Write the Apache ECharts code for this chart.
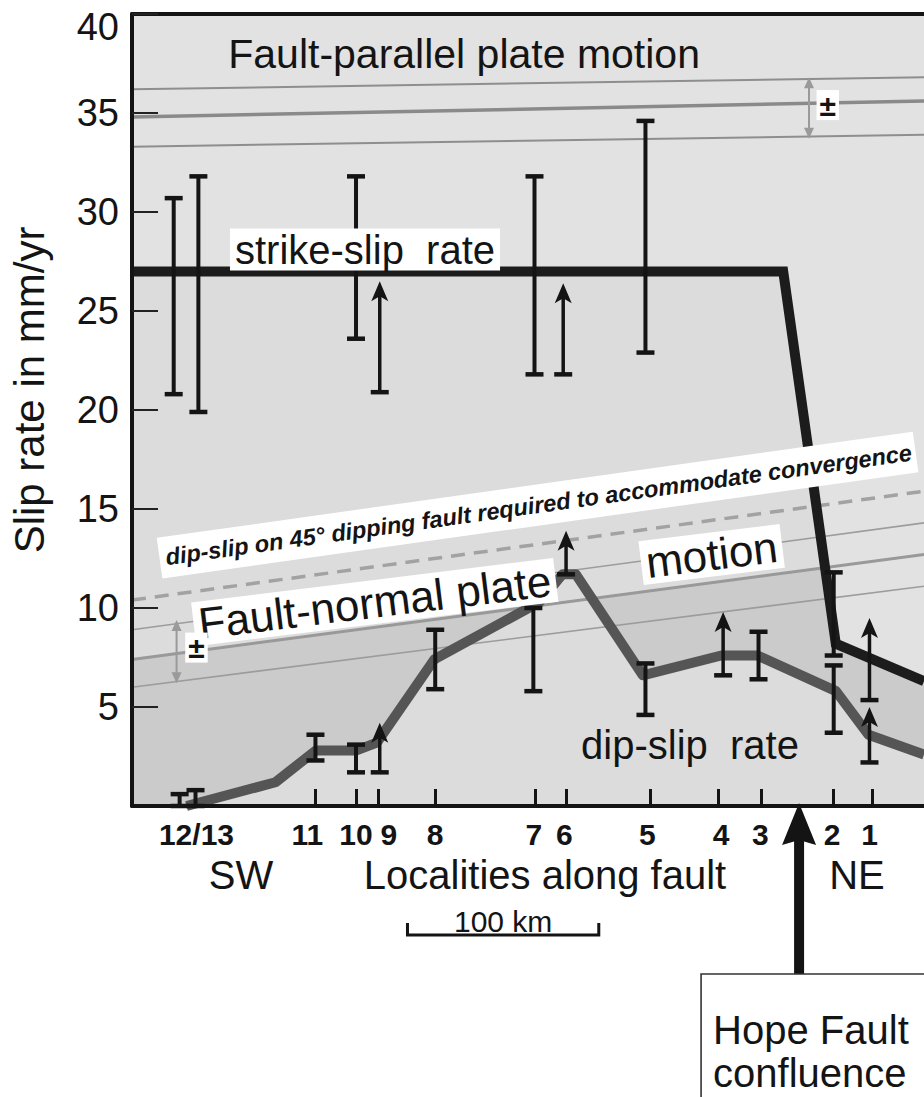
<!DOCTYPE html>
<html>
<head>
<meta charset="utf-8">
<script src="https://cdn.jsdelivr.net/npm/echarts@6.0.0/dist/echarts.min.js"></script>
<style>
html,body{margin:0;padding:0;background:#ffffff;}
#chart{width:924px;height:1097px;}
</style>
</head>
<body>
<div id="chart"></div>
<script>
// ---------------- data (distance along fault in km, slip rate in mm/yr) ----------------
const localityNames   = ['12/13', '11', '10', '9', '8', '7', '6', '5', '4', '3', '2', '1'];
const localityLabelKm = [33.7, 91.7, 117.1, 134.2, 158.5, 210.0, 226.0, 269.4, 308.0, 328.5, 366.0, 385.5];
const localityTickKm  = [95.9, 117.1, 128.5, 158.5, 210.9, 226.9, 271.0, 306.2, 329.0, 366.8, 387.0];
const yTickValues     = [5, 10, 15, 20, 25, 30, 35, 40];

// thick interpreted rate curves [km, mm/yr]
const strikeSlipLine = [[0, 27], [340.4, 27], [367.9, 8.2], [414, 6.3]];
const dipSlipLine = [[28.5, 0], [75, 1.2], [96, 2.8], [117, 2.8], [128, 3.2], [158, 7.4], [213, 10.3],
                     [225, 11.7], [232, 11.7], [267, 6.6], [308, 7.6], [327, 7.6], [368, 5.8], [385, 3.6], [414, 2.6]];

// measured ranges [km, low, high]
const strikeSlipBars = [[21.8, 20.8, 30.7], [34.7, 19.9, 31.8], [117.1, 23.6, 31.8], [210.4, 21.8, 31.8],
                        [268.4, 22.9, 34.6], [366.8, 7.6, 11.8]];
const dipSlipBars = [[24.9, 0, 0.6], [33.2, 0, 0.8], [95.9, 2.3, 3.6], [117.1, 1.7, 3.1], [158.5, 5.9, 8.9],
                     [209.8, 5.8, 10.0], [268.4, 4.6, 7.2], [327.5, 6.4, 8.8], [366.8, 3.7, 7.1]];
// minimum values [km, minimum, arrow tip]
const strikeSlipMins = [[129.5, 20.9, 26.5], [225.4, 21.8, 26.4], [385.5, 5.35, 9.5]];
const dipSlipMins = [[129.5, 1.7, 4.2], [226.9, 11.7, 13.9], [309.0, 6.6, 9.8], [385.5, 2.2, 5.0]];

// plate motion components [km, mm/yr]
const faultParallelMid  = [[0, 34.8], [414, 35.6]];
const faultParallelHigh = [[0, 36.2], [414, 36.8]];
const faultParallelLow  = [[0, 33.3], [414, 33.9]];
const faultNormalMid  = [[0, 7.4], [414, 12.7]];
const faultNormalHigh = [[0, 8.9], [414, 14.3]];
const faultNormalLow  = [[0, 6.0], [414, 11.1]];
const dipSlip45 = [[0, 10.4], [414, 15.9]];
// uncertainty markers [km, low, high]
const plateUncertainty = [[353.9, 33.7, 36.8], [23.3, 6.2, 9.4]];

const hopeFaultKm = 348.7;
const scaleBar = [[144, 100]]; // start km, length km

// annotations
const annoText = ['Fault-parallel plate motion', 'strike-slip\u00a0 rate', 'dip-slip\u00a0 rate',
                  'Fault-normal plate', 'motion',
                  'dip-slip on 45\u00b0 dipping fault required to accommodate convergence',
                  '\u00b1', '\u00b1'];
const annoKm  = [173.6, 121.8, 291.7, 126.9, 303.0, 212.0, 33.7, 363.7];
const annoVal = [38.0, 28.1, 3.1, 10.3, 12.7, 15.2, 8.0, 35.4];

// ---------------- rendering ----------------
const FONT = '"Liberation Sans", Arial, Helvetica, sans-serif';
const INK = '#141414';

const annoStyle = [
  {size: 41},
  {size: 40, bg: '#ffffff', pad: [1, 5, 1, 5]},
  {size: 40},
  {size: 44, bg: '#ffffff', pad: [0, 5, 0, 5], rot: 7},
  {size: 44, bg: '#ffffff', pad: [0, 5, 0, 5], rot: 7},
  {size: 23.5, weight: 'bold', italic: true, bg: '#ffffff', pad: [6, 4, 12, 6], rot: 8},
  {size: 30, weight: 'bold', bg: '#ffffff', pad: [0, 3, 0, 3]},
  {size: 30, weight: 'bold', bg: '#ffffff', pad: [0, 3, 0, 3]}
];

function errorBarItem(params, api) {
  const x = api.value(0), lo = api.value(1), hi = api.value(2);
  const p1 = api.coord([x, lo]), p2 = api.coord([x, hi]);
  const hw = 9;
  const st = {stroke: INK, lineWidth: 4.5};
  return {type: 'group', children: [
    {type: 'line', shape: {x1: p1[0], y1: p1[1], x2: p2[0], y2: p2[1]}, style: {stroke: INK, lineWidth: 4}},
    {type: 'line', shape: {x1: p1[0] - hw, y1: p1[1], x2: p1[0] + hw, y2: p1[1]}, style: st},
    {type: 'line', shape: {x1: p2[0] - hw, y1: p2[1], x2: p2[0] + hw, y2: p2[1]}, style: st}
  ]};
}

function minArrowItem(params, api) {
  const x = api.value(0), lo = api.value(1), tip = api.value(2);
  const p1 = api.coord([x, lo]), p2 = api.coord([x, tip]);
  const hw = 9;
  return {type: 'group', children: [
    {type: 'line', shape: {x1: p1[0], y1: p1[1], x2: p2[0], y2: p2[1] + 12}, style: {stroke: INK, lineWidth: 3.5}},
    {type: 'line', shape: {x1: p1[0] - hw, y1: p1[1], x2: p1[0] + hw, y2: p1[1]}, style: {stroke: INK, lineWidth: 4.5}},
    {type: 'polygon', shape: {points: [[p2[0], p2[1]], [p2[0] - 8.5, p2[1] + 20], [p2[0], p2[1] + 15], [p2[0] + 8.5, p2[1] + 20]]},
     style: {fill: INK}}
  ]};
}

function rangeArrowItem(params, api) {
  const x = api.value(0), lo = api.value(1), hi = api.value(2);
  const p1 = api.coord([x, lo]), p2 = api.coord([x, hi]);
  const c = '#9a9a9a';
  return {type: 'group', children: [
    {type: 'line', shape: {x1: p1[0], y1: p1[1] - 2, x2: p2[0], y2: p2[1] + 2}, style: {stroke: c, lineWidth: 2}},
    {type: 'polygon', shape: {points: [[p2[0], p2[1]], [p2[0] - 5, p2[1] + 11], [p2[0] + 5, p2[1] + 11]]}, style: {fill: c}},
    {type: 'polygon', shape: {points: [[p1[0], p1[1]], [p1[0] - 5, p1[1] - 11], [p1[0] + 5, p1[1] - 11]]}, style: {fill: c}}
  ]};
}

function annotationItem(params, api) {
  const i = params.dataIndex;
  const s = annoStyle[i];
  const p = api.coord([api.value(0), api.value(1)]);
  const style = {
    text: annoText[i], fontSize: s.size, fontFamily: FONT,
    fontWeight: s.weight || 'normal', fontStyle: s.italic ? 'italic' : 'normal',
    fill: INK, align: 'center', verticalAlign: 'middle'
  };
  if (s.bg) { style.backgroundColor = s.bg; style.padding = s.pad; }
  return {type: 'text', x: p[0], y: p[1], rotation: (s.rot || 0) * Math.PI / 180, style: style, z2: 50};
}

function hopeItem(params, api) {
  const p = api.coord([api.value(0), 0]);
  const x = p[0];
  const tipY = p[1] - 3;
  const baseY = tipY + 42;
  const boxTop = 974;
  return {type: 'group', children: [
    {type: 'polygon', shape: {points: [[x, tipY], [x - 17, baseY], [x, baseY - 5], [x + 17, baseY]]}, style: {fill: INK}},
    {type: 'rect', shape: {x: x - 5, y: baseY - 8, width: 10, height: boxTop - baseY + 8}, style: {fill: INK}},
    {type: 'rect', shape: {x: x - 98, y: boxTop, width: 320, height: 200}, style: {fill: '#ffffff', stroke: '#333333', lineWidth: 1.6}},
    {type: 'text', x: x - 86, y: 1030, style: {text: 'Hope Fault', fontSize: 40, fontFamily: FONT, fill: INK, align: 'left', verticalAlign: 'middle'}},
    {type: 'text', x: x - 86, y: 1073, style: {text: 'confluence', fontSize: 40, fontFamily: FONT, fill: INK, align: 'left', verticalAlign: 'middle'}}
  ]};
}

function scaleBarItem(params, api) {
  const k0 = api.value(0), len = api.value(1);
  const a = api.coord([k0, 0]), b = api.coord([k0 + len, 0]);
  const y = a[1] + 129;
  return {type: 'group', children: [
    {type: 'polyline', shape: {points: [[a[0], y - 12], [a[0], y], [b[0], y], [b[0], y - 12]]}, style: {stroke: INK, lineWidth: 3, fill: null}},
    {type: 'text', x: (a[0] + b[0]) / 2, y: y - 14, style: {text: len + ' km', fontSize: 30, fontFamily: FONT, fill: INK, align: 'center', verticalAlign: 'middle'}}
  ]};
}

function plainLine(data, color, width, z, extra) {
  return Object.assign({
    type: 'line', data: data, symbol: 'none', silent: true, z: z,
    lineStyle: {color: color, width: width}
  }, extra || {});
}

function areaOnly(data, color, origin) {
  return {
    type: 'line', data: data, symbol: 'none', silent: true, z: 1,
    lineStyle: {width: 0, opacity: 0},
    areaStyle: {color: color, origin: origin, opacity: 1}
  };
}

const chart = echarts.init(document.getElementById('chart'), null, {renderer: 'svg'});

const option = {
  animation: false,
  textStyle: {fontFamily: FONT},
  grid: {left: 125, right: 0, top: 14, bottom: 291, show: true, backgroundColor: '#dcdcdc', borderWidth: 0},
  xAxis: [
    {
      type: 'value', min: 0, max: 414, position: 'bottom', z: 10,
      axisLine: {onZero: false, lineStyle: {color: INK, width: 4}},
      axisTick: {show: true, inside: true, length: 17, customValues: localityTickKm, lineStyle: {color: INK, width: 3}},
      axisLabel: {
        customValues: localityLabelKm, fontSize: 30, fontWeight: 'bold', color: INK, margin: 13,
        formatter: function (v, i) {
          const k = localityLabelKm.indexOf(v);
          return localityNames[k >= 0 ? k : i];
        }
      },
      splitLine: {show: false}
    },
    {
      type: 'value', min: 0, max: 414, position: 'top', z: 10,
      axisLine: {onZero: false, lineStyle: {color: INK, width: 4}},
      axisTick: {show: false}, axisLabel: {show: false}, splitLine: {show: false}
    }
  ],
  yAxis: {
    type: 'value', min: 0, max: 40, interval: 5, z: 10,
    axisLine: {show: true, onZero: false, lineStyle: {color: INK, width: 4}},
    axisTick: {show: true, inside: true, length: 26, customValues: yTickValues, lineStyle: {color: '#222222', width: 2}},
    axisLabel: {
      fontSize: 38, color: INK, margin: 13,
      formatter: function (v) { return v === 0 ? '' : (v === 40 ? '{top|40}' : String(v)); },
      rich: {top: {fontSize: 38, color: INK, padding: [26, 0, 0, 0]}}
    },
    splitLine: {show: false},
    name: 'Slip rate in mm/yr', nameLocation: 'middle', nameGap: 82, nameRotate: 90,
    nameTextStyle: {fontSize: 42, color: INK, padding: [0, 0, 0, 40]}
  },
  series: [
    // shaded fields
    areaOnly(faultNormalMid, '#cbcbcb', 'start'),
    areaOnly(strikeSlipLine, '#e2e2e2', 'end'),
    areaOnly(dipSlipLine, '#dcdcdc', 'start'),
    // plate motion components
    plainLine(faultParallelHigh, '#8e8e8e', 2, 3),
    plainLine(faultParallelLow, '#8e8e8e', 2, 3),
    plainLine(faultParallelMid, '#8a8a8a', 3.5, 3),
    plainLine(faultNormalHigh, '#9c9c9c', 1.6, 3),
    plainLine(faultNormalLow, '#9c9c9c', 1.6, 3),
    plainLine(faultNormalMid, '#999999', 3, 3),
    plainLine(dipSlip45, '#a2a2a2', 3.5, 3, {lineStyle: {color: '#a2a2a2', width: 3.5, type: [14, 9]}}),
    // interpreted rates
    plainLine(dipSlipLine, '#555555', 10, 5, {lineStyle: {color: '#555555', width: 10, join: 'round'}}),
    plainLine(strikeSlipLine, '#1c1c1c', 10, 5, {lineStyle: {color: '#1c1c1c', width: 10, join: 'miter'}}),
    // measurements
    {type: 'custom', data: strikeSlipBars, renderItem: errorBarItem, encode: {x: 0, y: [1, 2]}, z: 6, silent: true},
    {type: 'custom', data: dipSlipBars, renderItem: errorBarItem, encode: {x: 0, y: [1, 2]}, z: 6, silent: true},
    {type: 'custom', data: strikeSlipMins, renderItem: minArrowItem, encode: {x: 0, y: [1, 2]}, z: 6, silent: true},
    {type: 'custom', data: dipSlipMins, renderItem: minArrowItem, encode: {x: 0, y: [1, 2]}, z: 6, silent: true},
    {type: 'custom', data: plateUncertainty, renderItem: rangeArrowItem, encode: {x: 0, y: [1, 2]}, z: 4, silent: true},
    // annotations
    {type: 'custom', data: annoKm.map(function (k, i) { return [k, annoVal[i]]; }), renderItem: annotationItem,
     encode: {x: 0, y: 1}, z: 20, silent: true, clip: false},
    {type: 'custom', data: [[hopeFaultKm]], renderItem: hopeItem, encode: {x: 0}, z: 20, silent: true, clip: false},
    {type: 'custom', data: scaleBar, renderItem: scaleBarItem, encode: {x: 0}, z: 20, silent: true, clip: false}
  ],
  graphic: [
    {type: 'text', x: 241, y: 875, z: 30, style: {text: 'SW', fontSize: 40, fontFamily: FONT, fill: INK, align: 'center', verticalAlign: 'middle'}},
    {type: 'text', x: 545, y: 875, z: 30, style: {text: 'Localities along fault', fontSize: 40, fontFamily: FONT, fill: INK, align: 'center', verticalAlign: 'middle'}},
    {type: 'text', x: 857, y: 875, z: 30, style: {text: 'NE', fontSize: 40, fontFamily: FONT, fill: INK, align: 'center', verticalAlign: 'middle'}}
  ]
};

chart.setOption(option);
</script>
</body>
</html>
